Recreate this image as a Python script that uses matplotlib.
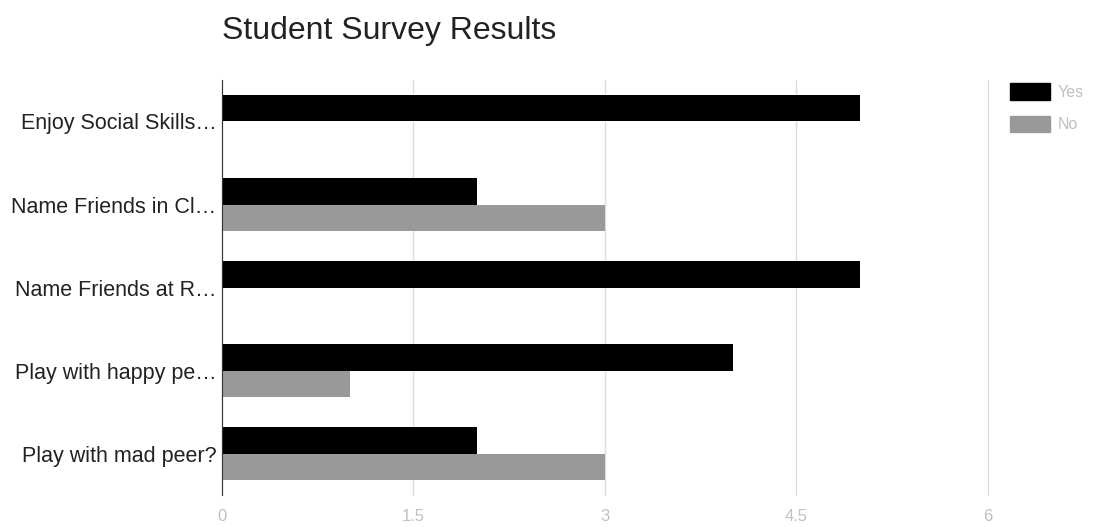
import numpy as np
import matplotlib.pyplot as plt
from matplotlib.patches import Patch

plt.rcParams['font.family'] = ['Liberation Sans', 'DejaVu Sans']

categories = ['Enjoy Social Skills…', 'Name Friends in Cl…', 'Name Friends at R…',
              'Play with happy pe…', 'Play with mad peer?']
yes = [5, 2, 5, 4, 2]
no = [0, 3, 0, 1, 3]
ticks = [0, 1.5, 3, 4.5, 6]
tick_labels = ['0', '1.5', '3', '4.5', '6']

fig = plt.figure(figsize=(10.94, 5.27), dpi=100)
ax = fig.add_axes([0.2029, 0.0607, 0.7002, 0.7875])

y = np.arange(len(categories))
h = 0.315
ax.barh(y - h / 2, yes, height=h, color='#000000', label='Yes', zorder=3)
ax.barh(y + h / 2, no, height=h, color='#999999', label='No', zorder=3)

ax.set_xlim(0, 6)
ax.set_ylim(len(categories) - 0.5, -0.5)
ax.set_xticks(ticks)
ax.set_xticklabels(tick_labels, color='#c0c0c0', fontsize=12)
ax.set_yticks(y)
ax.set_yticklabels(categories, fontsize=15.5, color='#222222')
ax.tick_params(axis='both', length=0)
ax.tick_params(axis='x', pad=10)
ax.tick_params(axis='y', pad=4)
ax.grid(axis='x', color='#dddddd', linewidth=1, zorder=0)
for gl in ax.get_xgridlines():
    gl.set_clip_on(False)
for s in ['top', 'right', 'bottom']:
    ax.spines[s].set_visible(False)
ax.spines['left'].set_color('#333333')
ax.spines['left'].set_zorder(4)

fig.text(0.203, 0.942, 'Student Survey Results', fontsize=23, color='#222222',
         ha='left', va='center')

handles = [Patch(color='#000000'), Patch(color='#999999')]
fig.legend(handles, ['Yes', 'No'], loc='upper left', bbox_to_anchor=(0.923, 0.843),
           frameon=False, fontsize=11.5, handlelength=2.5, handleheight=1.25,
           handletextpad=0.5, labelspacing=1.0, borderpad=0, borderaxespad=0,
           labelcolor='#c0c0c0')

fig.savefig('out.png', dpi=100)
